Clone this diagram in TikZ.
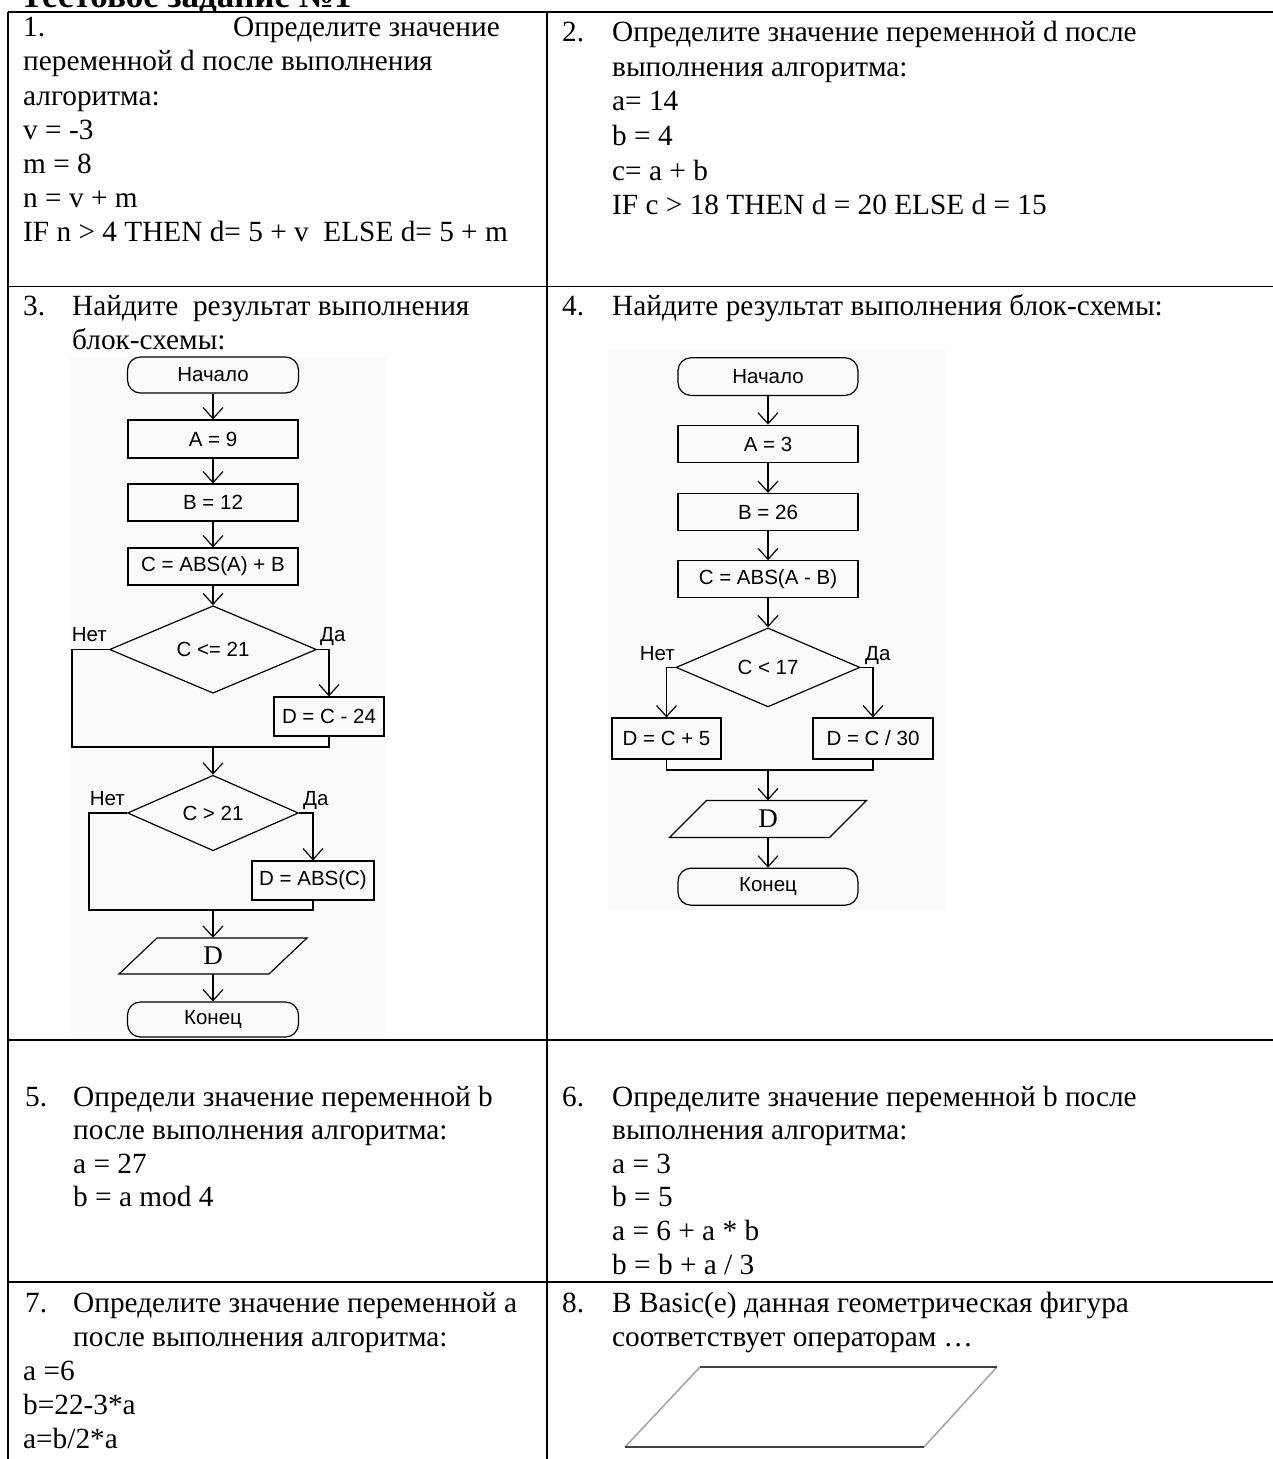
\documentclass[tikz,border=0pt]{standalone}
\usepackage{fontspec}
\setmainfont{Liberation Serif}
\newfontfamily\fcsans{Liberation Sans}
\usetikzlibrary{arrows.meta,shapes.geometric}
\begin{document}
\begin{tikzpicture}[x=1pt,y=-1pt,
  txt/.style={anchor=base west,inner sep=0pt,font=\fontsize{29.3}{34}\selectfont},
  ttl/.style={anchor=base west,inner sep=0pt,font=\fontsize{35}{40}\selectfont\bfseries},
  grid/.style={line width=1.8pt},
  fbox/.style={draw,line width=1.2pt,rectangle,inner sep=0pt,font=\fcsans\fontsize{20.5}{24}\selectfont},
  fterm/.style={fbox,rounded corners=13pt},
  fdia/.style={draw,line width=1.2pt,diamond,inner sep=0pt,font=\fcsans\fontsize{20.5}{24}\selectfont},
  flab/.style={inner sep=0pt,font=\fcsans\fontsize{20.5}{24}\selectfont},
  fio/.style={inner sep=0pt,font=\fontsize{27}{30}\selectfont},
  fl/.style={line width=1.2pt},
  fa/.style={line width=1.2pt,-{Straight Barb[length=11pt,width=20pt]}},
]
\useasboundingbox (0,0) rectangle (1273,1459);
\fill[white] (0,0) rectangle (1273,1459);
% faint backgrounds of the flowchart pictures
\fill[black!2] (71,357) rectangle (385,1039);
\fill[black!2] (608,350) rectangle (945,910);

% title (partly cut off at the top)
\node[ttl] (title) at (20,7) {Тестовое задание №1};

% table lines
\draw[grid] (8,12.3) -- (1285,12.3);
\draw[grid] (8,12.3) -- (8,1470);
\draw[grid] (547,12.3) -- (547,1470);
\draw[grid] (8,286.5) -- (1285,286.5);
\draw[grid] (8,1040) -- (1285,1040);
\draw[grid] (8,1282) -- (1285,1282);

% cell 1
\node[txt] (t1a) at (23,36.7) {1.};
\node[txt,anchor=base east] (t1b) at (500,36.7) {Определите значение};
\node[txt] (t1c) at (23,70.9) {переменной d после выполнения};
\node[txt] (t1d) at (23,105) {алгоритма:};
\node[txt] (t1e) at (23,139.2) {v = -3};
\node[txt] (t1f) at (23,173.4) {m = 8};
\node[txt] (t1g) at (23,207.5) {n = v + m};
\node[txt] (t1h) at (23,241.7) {IF n > 4 THEN d= 5 + v\ \ ELSE d= 5 + m};

% cell 2
\node[txt] (t2a) at (562,41.7) {2.};
\node[txt] (t2b) at (612,41.7) {Определите значение переменной d после};
\node[txt] (t2c) at (612,76.3) {выполнения алгоритма:};
\node[txt] (t2d) at (612,110.9) {a= 14};
\node[txt] (t2e) at (612,145.5) {b = 4};
\node[txt] (t2f) at (612,180.1) {c= a + b};
\node[txt] (t2g) at (612,214.7) {IF c > 18 THEN d = 20 ELSE d = 15};

% cell 3
\node[txt] (t3a) at (23,315) {3.};
\node[txt] (t3b) at (72,315) {Найдите\ \ результат выполнения};
\node[txt] (t3c) at (72,349) {блок-схемы:};

% cell 4
\node[txt] (t4a) at (562,315) {4.};
\node[txt] (t4b) at (612,315) {Найдите результат выполнения блок-схемы:};

% left flowchart
\node[fterm,minimum width=171pt,minimum height=36pt] (s1) at (213,375) {Начало};
\node[fbox,minimum width=170pt,minimum height=38pt] (a1) at (213,439) {A = 9};
\node[fbox,minimum width=170pt,minimum height=37pt] (b1) at (213,502.5) {B = 12};
\node[fbox,minimum width=170pt,minimum height=37pt] (c1) at (213,566.5) {C = ABS(A) + B};
\node[fdia,minimum width=207pt,minimum height=75pt] (d1) at (213,649.5) {C <= 21};
\node[flab,anchor=base east] (n1) at (107,641.7) {Нет};
\node[flab,anchor=base west] (y1) at (320,641.7) {Да};
\node[fbox,minimum width=110pt,minimum height=39pt] (e1) at (329,716.5) {D = C - 24};
\coordinate (l1) at (72,747);
\coordinate (r1) at (329,747);
\coordinate (m1) at (213,747);
\node[fdia,minimum width=171pt,minimum height=74pt] (d2) at (213,813) {C > 21};
\node[flab,anchor=base east] (n2) at (125,805) {Нет};
\node[flab,anchor=base west] (y2) at (303,805) {Да};
\node[fbox,minimum width=122pt,minimum height=39pt] (f1) at (313,880.5) {D = ABS(C)};
\coordinate (l2) at (89,910);
\coordinate (r2) at (313,910);
\coordinate (m2) at (213,910);
\node[fio,minimum width=150pt,minimum height=36pt] (p1) at (213,956) {D};
\draw[fl] (157,938) -- (307,938) -- (269,974) -- (119,974) -- cycle;
\node[fterm,minimum width=171pt,minimum height=35pt] (k1) at (213,1019.5) {Конец};

\draw[fa] (s1.south) -- (a1.north);
\draw[fa] (a1.south) -- (b1.north);
\draw[fa] (b1.south) -- (c1.north);
\draw[fa] (c1.south) -- (d1.north);
\draw[fa] (d1.east) -| (e1.north);
\draw[fl] (d1.west) -| (l1) -- (r1) -- (e1.south);
\draw[fa] (m1) -- (d2.north);
\draw[fa] (d2.east) -| (f1.north);
\draw[fl] (d2.west) -| (l2) -- (r2) -- (f1.south);
\draw[fa] (m2) -- (p1.north);
\draw[fa] (p1.south) -- (k1.north);

% right flowchart
\node[fterm,minimum width=180pt,minimum height=37.7pt] (s2) at (768,376.6) {Начало};
\node[fbox,minimum width=180pt,minimum height=37.7pt] (a2) at (768,444) {A = 3};
\node[fbox,minimum width=180pt,minimum height=37pt] (b2) at (768,512) {B = 26};
\node[fbox,minimum width=180pt,minimum height=37pt] (c2) at (768,579.3) {C = ABS(A - B)};
\node[fdia,minimum width=184pt,minimum height=79pt] (d3) at (768,667.4) {C < 17};
\node[flab,anchor=base east] (n3) at (675,660) {Нет};
\node[flab,anchor=base west] (y3) at (865,660) {Да};
\node[fbox,minimum width=109pt,minimum height=41pt] (g1) at (666.5,738.5) {D = C + 5};
\node[fbox,minimum width=120pt,minimum height=41pt] (g2) at (873,738.5) {D = C / 30};
\coordinate (l3) at (666.5,770);
\coordinate (r3) at (873,770);
\coordinate (m3) at (768,770);
\node[fio,minimum width=160pt,minimum height=37pt] (p2) at (768,819) {D};
\draw[fl] (706.5,800.5) -- (866.5,800.5) -- (829.5,837.5) -- (669.5,837.5) -- cycle;
\node[fterm,minimum width=180pt,minimum height=37pt] (k2) at (768,886.7) {Конец};

\draw[fa] (s2.south) -- (a2.north);
\draw[fa] (a2.south) -- (b2.north);
\draw[fa] (b2.south) -- (c2.north);
\draw[fa] (c2.south) -- (d3.north);
\draw[fa] (d3.west) -| (g1.north);
\draw[fa] (d3.east) -| (g2.north);
\draw[fl] (g1.south) -- (l3) -- (r3) -- (g2.south);
\draw[fa] (m3) -- (p2.north);
\draw[fa] (p2.south) -- (k2.north);

% cell 5
\node[txt] (t5a) at (25,1106) {5.};
\node[txt] (t5b) at (73,1106) {Определи значение переменной b};
\node[txt] (t5c) at (73,1139.6) {после выполнения алгоритма:};
\node[txt] (t5d) at (73,1173.2) {a = 27};
\node[txt] (t5e) at (73,1206.8) {b = a mod 4};

% cell 6
\node[txt] (t6a) at (562,1106) {6.};
\node[txt] (t6b) at (612,1106) {Определите значение переменной b после};
\node[txt] (t6c) at (612,1139.6) {выполнения алгоритма:};
\node[txt] (t6d) at (612,1173.2) {a = 3};
\node[txt] (t6e) at (612,1206.8) {b = 5};
\node[txt] (t6f) at (612,1240.4) {a = 6 + a * b};
\node[txt] (t6g) at (612,1274) {b = b + a / 3};

% cell 7
\node[txt] (t7a) at (25,1312) {7.};
\node[txt] (t7b) at (73,1312) {Определите значение переменной a};
\node[txt] (t7c) at (73,1346) {после выполнения алгоритма:};
\node[txt] (t7d) at (23,1380) {a =6};
\node[txt] (t7e) at (23,1414) {b=22-3*a};
\node[txt] (t7f) at (23,1448) {a=b/2*a};

% cell 8
\node[txt] (t8a) at (562,1312) {8.};
\node[txt] (t8b) at (612,1312) {В Basic(e) данная геометрическая фигура};
\node[txt] (t8c) at (612,1346) {соответствует операторам …};
\draw[black!35,line width=1.6pt] (700,1367) -- (625,1447);
\draw[black!35,line width=1.6pt] (997,1367) -- (924,1447);
\draw[black!75,line width=2.6pt] (700,1367) -- (997,1367);
\draw[black!75,line width=2.6pt] (625,1447) -- (924,1447);
\end{tikzpicture}
\end{document}
